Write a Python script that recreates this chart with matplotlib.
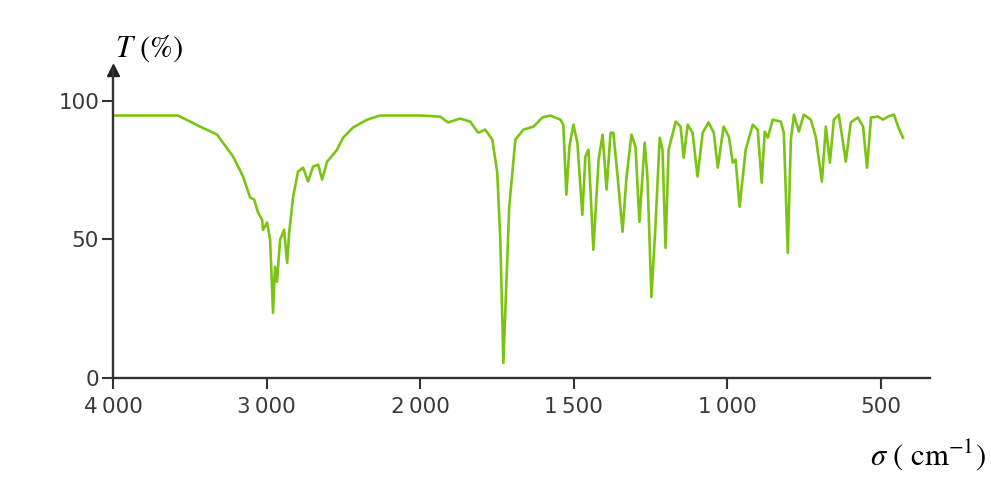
import matplotlib
matplotlib.use("Agg")
import matplotlib.pyplot as plt

# Spectre IR : nombre d'onde (cm-1) et transmittance (%)
sigma = [4000, 3577, 3433, 3322, 3218, 3153, 3107, 3081, 3055, 3029, 3023, 2997,
         2977, 2958, 2945, 2932, 2912, 2886, 2866, 2853, 2827, 2795, 2762, 2730,
         2697, 2664, 2638, 2606, 2567, 2541, 2502, 2436, 2345, 2260, 2000,
         1935, 1909, 1870, 1837, 1811, 1788, 1765, 1749, 1739, 1729, 1720, 1710,
         1690, 1664, 1631, 1602, 1576, 1543, 1534, 1524, 1514, 1501, 1488, 1472,
         1462, 1452, 1436, 1419, 1406, 1393, 1380, 1371, 1357, 1341, 1328, 1312,
         1299, 1286, 1269, 1260, 1247, 1234, 1220, 1211, 1201, 1191, 1168, 1152,
         1142, 1129, 1113, 1097, 1080, 1061, 1044, 1031, 1012, 995, 982, 973,
         960, 940, 917, 901, 888, 878, 868, 852, 826, 816, 803, 793, 783, 767,
         751, 728, 712, 692, 679, 666, 653, 637, 614, 598, 575, 558, 545, 532,
         509, 493, 477, 457, 444, 428]
transmittance = [94.6, 94.6, 90.6, 87.7, 79.8, 72.6, 65.0, 64.3, 59.6, 57.0, 53.4, 56.0,
                 49.8, 23.5, 40.1, 34.7, 49.8, 53.4, 41.5, 52.3, 65.3, 74.4, 75.8, 70.8,
                 76.2, 76.9, 71.5, 78.0, 80.5, 82.3, 86.6, 90.3, 93.1, 94.6, 94.6,
                 94.2, 92.1, 93.5, 92.4, 88.4, 89.5, 85.9, 74.0, 49.8, 5.4, 31.8, 61.7,
                 85.9, 89.5, 90.6, 93.9, 94.6, 93.1, 91.3, 66.1, 83.4, 91.3, 84.8, 58.8,
                 79.8, 82.3, 46.2, 78.7, 87.7, 67.9, 88.4, 88.4, 72.6, 52.7, 72.6, 87.7,
                 83.4, 56.3, 84.8, 72.6, 29.2, 54.5, 86.6, 82.3, 46.9, 82.3, 92.4, 90.6,
                 79.4, 91.3, 88.4, 72.6, 88.4, 92.1, 88.4, 75.8, 90.6, 87.0, 77.6, 78.7,
                 61.7, 82.3, 91.3, 89.5, 70.4, 88.8, 86.6, 93.1, 92.4, 88.4, 45.1, 85.9, 94.9, 88.8,
                 94.9, 93.1, 87.0, 70.8, 90.6, 77.6, 93.1, 94.9, 78.0, 92.1, 93.9, 90.6, 75.8, 93.9,
                 94.2, 93.1, 94.2, 94.9, 90.6, 86.6]

x_ticks = [4000, 3000, 2000, 1500, 1000, 500]
x_labels = ["4\u2009000", "3\u2009000", "2\u2009000", "1\u2009500", "1\u2009000", "500"]
y_ticks = [0, 50, 100]


# changement d'echelle a 2000 cm-1 (comme sur les spectres IR)
def forward(s):
    import numpy as np
    s = np.asarray(s, dtype=float)
    return np.where(s <= 2000, s / 500.0, 4 + (s - 2000) / 1000.0)


def inverse(u):
    import numpy as np
    u = np.asarray(u, dtype=float)
    return np.where(u <= 4, u * 500.0, 2000 + (u - 4) * 1000.0)


fig = plt.figure(figsize=(9.91, 4.82), dpi=100)
ax = fig.add_axes([113 / 991, 104 / 482, 817 / 991, 308 / 482])

ax.set_xscale("function", functions=(forward, inverse))
ax.plot(sigma, transmittance, color="#7cc414", lw=1.9, solid_joinstyle="round")

ax.set_xlim(4000, 340)
ax.set_ylim(0, 111)

ax.set_xticks(x_ticks)
ax.set_xticklabels(x_labels)
ax.set_yticks(y_ticks)
ax.minorticks_off()

for side in ["top", "right"]:
    ax.spines[side].set_visible(False)
for side in ["left", "bottom"]:
    ax.spines[side].set_linewidth(1.7)
    ax.spines[side].set_color("#333333")

ax.tick_params(axis="both", direction="out", length=8, width=1.5, color="#333333",
               labelsize=15.5, labelcolor="#3a3a3a")
ax.tick_params(axis="x", pad=6)
ax.tick_params(axis="y", pad=2)

# fleche en haut de l'axe des ordonnees
ax.plot(0, 1, marker="^", color="#222222", markersize=8, transform=ax.transAxes,
        clip_on=False)

fig.text(115 / 991, 1 - 57 / 482, r"$T$ (%)", fontsize=22, family="STIXGeneral",
         ha="left", va="baseline", math_fontfamily="stix")
fig.text(986 / 991, 1 - 464 / 482, r"$\sigma$ ( cm$^{-1}$)", fontsize=22,
         family="STIXGeneral", ha="right", va="baseline", math_fontfamily="stix")

fig.savefig("out.png", dpi=100)
